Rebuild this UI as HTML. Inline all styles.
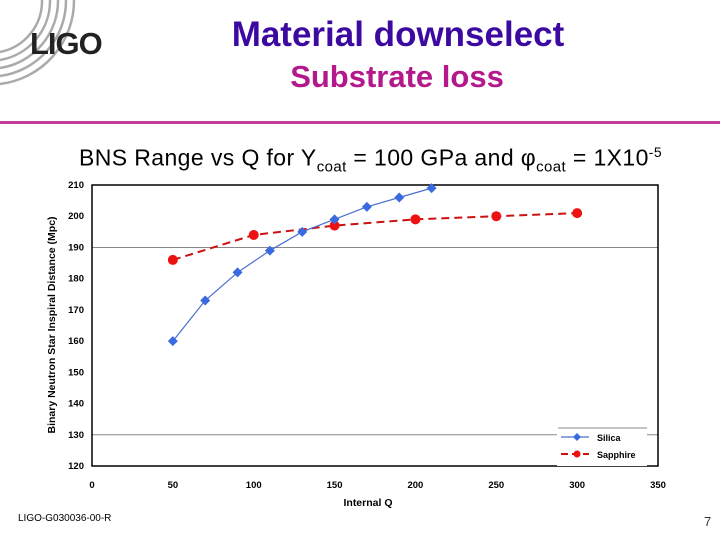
<!DOCTYPE html>
<html><head><meta charset="utf-8"><style>
body{margin:0;width:720px;height:540px;background:#fff;overflow:hidden;font-family:"Liberation Sans",sans-serif;position:relative}
.abs{position:absolute;white-space:nowrap}
</style></head><body>
<svg class="abs" style="left:0;top:0" width="120" height="90">
<g fill="none" stroke="#aaa" stroke-width="2.5">
<path d="M0,84 A84,84 0 0 0 74,0"/><path d="M0,76 A76,76 0 0 0 66,0"/><path d="M0,68 A68,68 0 0 0 58,0"/><path d="M0,60 A60,60 0 0 0 50,0"/><path d="M0,52 A52,52 0 0 0 42,0"/>
</g>
<text x="30" y="54" font-family="Liberation Sans" font-weight="bold" font-size="31" letter-spacing="-1" fill="#222">LIGO</text>
</svg>
<div class="abs" style="left:0;width:796px;text-align:center;top:15px;font-size:35px;font-weight:bold;color:#3c0aa0">Material downselect</div>
<div class="abs" style="left:0;width:794px;text-align:center;top:59px;font-size:31px;font-weight:bold;color:#b4198c">Substrate loss</div>
<div class="abs" style="left:0;top:121px;width:720px;height:3px;background:#c03c9c"></div>
<div class="abs" style="left:79px;top:144px;font-size:23px;letter-spacing:0.4px;color:#000">BNS Range vs Q for Y<sub style="font-size:15px">coat</sub> = 100 GPa and &#966;<sub style="font-size:15px">coat</sub> = 1X10<sup style="font-size:14px">-5</sup></div>
<svg id="chart" class="abs" style="left:0;top:0" width="720" height="540"></svg>
<div class="abs" style="left:18px;top:513px;font-size:10px">LIGO-G030036-00-R</div>
<div class="abs" style="left:704px;top:514px;font-size:13px;color:#333">7</div>
<script>
const silicaQ=[50,70,90,110,130,150,170,190,210];
const silicaR=[160,173,182,189,195,199,203,206,209];
const sapphQ=[50,100,150,200,250,300];
const sapphR=[186,194,197,199,200,201];
const xTicks=[0,50,100,150,200,250,300,350];
const yTicks=[120,130,140,150,160,170,180,190,200,210];
const gridVals=[130,190];
const NS='http://www.w3.org/2000/svg';
const svg=document.getElementById('chart');
const X0=92,X1=658,Y0=466,Y1=185;
const sx=v=>X0+(v-0)/(350)*(X1-X0);
const sy=v=>Y0-(v-120)/(90)*(Y0-Y1);
function mk(t,a){const e=document.createElementNS(NS,t);for(const k in a)e.setAttribute(k,a[k]);svg.appendChild(e);return e;}
gridVals.forEach(v=>{const l=mk('line',{x1:X0,x2:X1,y1:sy(v),y2:sy(v),stroke:'#888','stroke-width':1});

});
const fr=mk('rect',{x:X0,y:Y1,width:X1-X0,height:Y0-Y1,fill:'none',stroke:'#000','stroke-width':1.5});


xTicks.forEach(v=>{const t=mk('text',{x:sx(v),y:488,'text-anchor':'middle','font-size':9.5,'font-weight':'bold','font-family':'Liberation Sans'});t.textContent=v;

});
yTicks.forEach(v=>{const t=mk('text',{x:84,y:sy(v)+3,'text-anchor':'end','font-size':9.5,'font-weight':'bold','font-family':'Liberation Sans'});t.textContent=v;

});
let xt=mk('text',{x:368,y:506,'text-anchor':'middle','font-size':10.5,'font-weight':'bold','font-family':'Liberation Sans'});xt.textContent='Internal Q';


let yt=mk('text',{x:55,y:325,'text-anchor':'middle','font-size':10.5,'font-weight':'bold','font-family':'Liberation Sans',transform:'rotate(-90 55 325)'});yt.textContent='Binary Neutron Star Inspiral Distance (Mpc)';


let p1=mk('polyline',{points:sapphQ.map((q,i)=>sx(q)+','+sy(sapphR[i])).join(' '),fill:'none',stroke:'#cc1111','stroke-width':2,'stroke-dasharray':'8,5'});


let p2=mk('polyline',{points:silicaQ.map((q,i)=>sx(q)+','+sy(silicaR[i])).join(' '),fill:'none',stroke:'#4a6fd0','stroke-width':1.2});


sapphQ.forEach((q,i)=>{const c=mk('circle',{cx:sx(q),cy:sy(sapphR[i]),r:5,fill:'#ee1111'});

});
silicaQ.forEach((q,i)=>{const x=sx(q),y=sy(silicaR[i]);const d=mk('polygon',{points:`${x},${y-5} ${x+5},${y} ${x},${y+5} ${x-5},${y}`,fill:'#3a6ae0'});

});
const lg=mk('rect',{x:557,y:428,width:90,height:38,fill:'#fff',stroke:'none'});


mk('line',{x1:558,x2:647,y1:428,y2:428,stroke:'#888'});
mk('line',{x1:561,x2:589,y1:437,y2:437,stroke:'#4a6fd0','stroke-width':1.2});
mk('polygon',{points:'577,433 581,437 577,441 573,437',fill:'#3a6ae0'});
mk('line',{x1:561,x2:589,y1:454,y2:454,stroke:'#cc1111','stroke-width':2,'stroke-dasharray':'7,4'});
mk('circle',{cx:577,cy:454,r:3.5,fill:'#ee1111'});
let l1=mk('text',{x:597,y:441,'font-size':9,'font-weight':'bold','font-family':'Liberation Sans'});l1.textContent='Silica';


let l2=mk('text',{x:597,y:458,'font-size':9,'font-weight':'bold','font-family':'Liberation Sans'});l2.textContent='Sapphire';


</script>
</body></html>
